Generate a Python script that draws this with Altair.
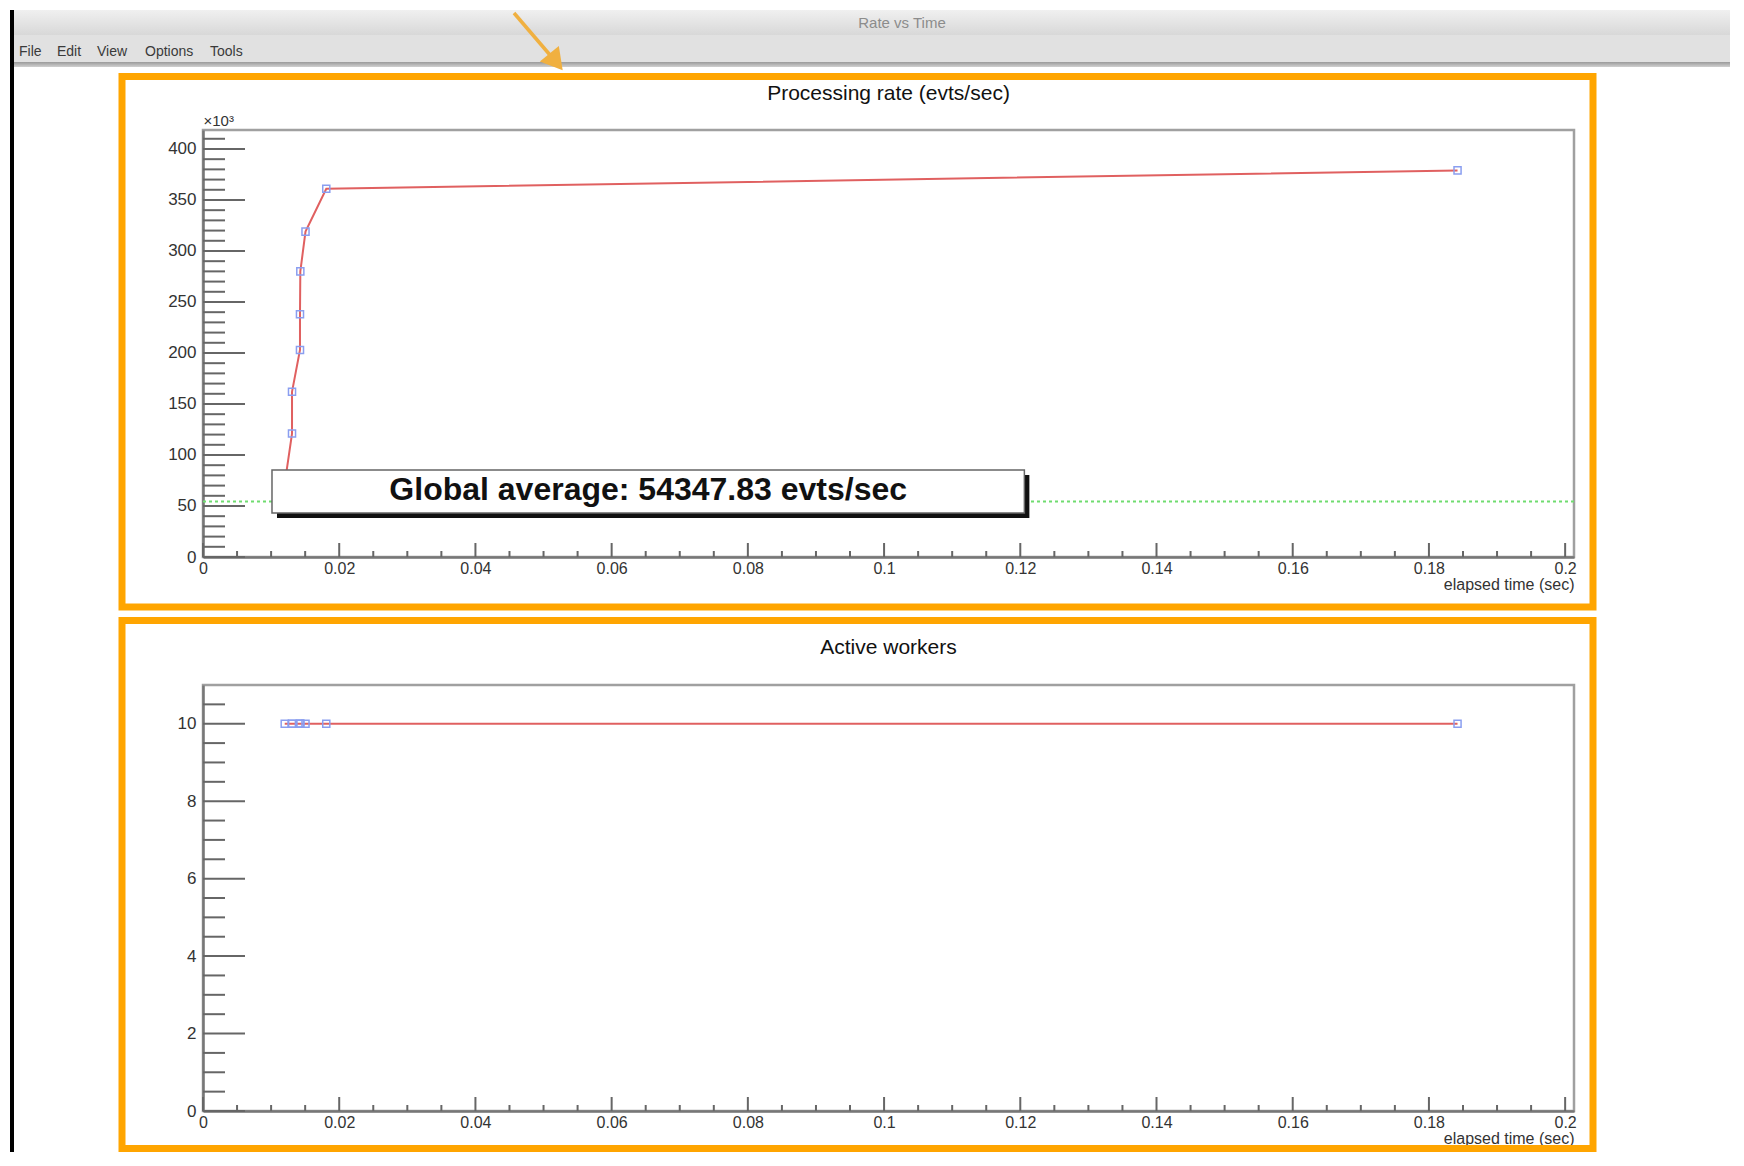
import altair as alt
import pandas as pd

# ---------------- data ----------------
time_s = [0.0120, 0.01307, 0.01307, 0.01424, 0.01424, 0.01429, 0.01505, 0.0181, 0.1842]
rate_k = [72, 121, 162, 203, 238, 280, 319, 361, 379]          # evts/sec, x10^3
workers = [10, 10, 10, 10, 10, 10, 10, 10, 10]
global_avg = 54347.83                                          # evts/sec

x_major = [0, 0.02, 0.04, 0.06, 0.08, 0.1, 0.12, 0.14, 0.16, 0.18, 0.2]
x_minor = [round(i * 0.005, 3) for i in range(1, 41) if i % 4]
ytop_major = [0, 50, 100, 150, 200, 250, 300, 350, 400]
ytop_minor = [v for v in range(10, 420, 10) if v % 50]
ybot_major = [0, 2, 4, 6, 8, 10]
ybot_minor = [v / 2 for v in range(1, 22) if v % 4]

menu_items = ["File", "Edit", "View", "Options", "Tools"]
window_title = "Rate vs Time"
top_title = "Processing rate (evts/sec)"
bot_title = "Active workers"
x_title = "elapsed time (sec)"

# pave (annotation box) corners, in data units of the upper panel
pave_x = [0.01013, 0.1206]
pave_y = [43.1, 85.3]

# ---------------- layout / style ----------------
W, H1, H2 = 1371, 427, 426
FONT = "Liberation Sans"
LBL = "#333333"
TICK = "#666666"
RED = "#e06060"
BLUE = "#8a9ef0"
GREEN = "#6fdc6f"
ORANGE = "#ffa500"

df = pd.DataFrame({"idx": list(range(len(time_s))), "t": time_s,
                   "rate": rate_k, "workers": workers})
one = pd.DataFrame({"k": [0]})

xscale = alt.Scale(domain=[0, 0.2013], nice=False, zero=False)
ys_top = alt.Scale(domain=[0, 418.6], nice=False, zero=False)
ys_bot = alt.Scale(domain=[0, 11], nice=False, zero=False)


def x_axis():
    return alt.Axis(values=x_major, format="~g", grid=False, ticks=False, tickSize=0,
                    domainColor="#777777", domainWidth=2.5,
                    labelFont=FONT, labelFontSize=16, labelColor=LBL,
                    labelBaseline="top", labelPadding=3, labelFlush=False,
                    labelOverlap=False,
                    title=x_title, titleFont=FONT, titleFontSize=16,
                    titleFontWeight="normal", titleColor=LBL, titleAlign="right",
                    titleX=W, titleY=19, titleBaseline="top", titleAngle=0)


def y_axis(vals, title):
    return alt.Axis(values=vals, format="d", grid=False, ticks=False, tickSize=0,
                    domainColor="#777777", domainWidth=2.5,
                    labelFont=FONT, labelFontSize=17, labelColor=LBL,
                    labelAlign="right", labelBaseline="middle", labelPadding=7,
                    labelFlush=False, labelOverlap=False,
                    title=title, titleFont=FONT, titleFontSize=15,
                    titleFontWeight="normal", titleColor=LBL, titleAlign="left",
                    titleAngle=0, titleX=0, titleY=-10, titleBaseline="middle")


def px_rect(x, x2, y, y2, **kw):
    return alt.Chart(one).mark_rect(**kw).encode(
        x=alt.value(x), x2=alt.value(x2), y=alt.value(y), y2=alt.value(y2))


def px_text(label, x, y, **kw):
    return alt.Chart(one).mark_text(text=label, font=FONT, baseline="middle", **kw).encode(
        x=alt.value(x), y=alt.value(y))


def ticks_layers(ymaj, ymin, yscale, H):
    out = []
    for vals, ln in ((ymaj, 42), (ymin, 22)):
        out.append(alt.Chart(pd.DataFrame({"v": vals})).mark_rule(
            color=TICK, strokeWidth=2).encode(
            y=alt.Y("v:Q", scale=yscale),
            x=alt.value(0), x2=alt.value(ln)))
    for vals, ln in ((x_major, 14), (x_minor, 6)):
        out.append(alt.Chart(pd.DataFrame({"v": vals})).mark_rule(
            color=TICK, strokeWidth=2).encode(
            x=alt.X("v:Q", scale=xscale),
            y=alt.value(H), y2=alt.value(H - ln)))
    return out


def series_layers(field, yscale, yaxis):
    line = alt.Chart(df).mark_line(color=RED, strokeWidth=2).encode(
        x=alt.X("t:Q", scale=xscale, axis=x_axis()),
        y=alt.Y(f"{field}:Q", scale=yscale, axis=yaxis),
        order="idx:Q")
    pts = alt.Chart(df).mark_point(shape="square", filled=False, size=50,
                                   color=BLUE, strokeWidth=1.5, opacity=1).encode(
        x=alt.X("t:Q", scale=xscale),
        y=alt.Y(f"{field}:Q", scale=yscale))
    return line, pts


# ---------------- window chrome (decoration, pixel units from plot origin) ----------------
grad_title = {"gradient": "linear", "x1": 0, "y1": 0, "x2": 0, "y2": 1,
              "stops": [{"offset": 0, "color": "#f0f0f0"}, {"offset": 1, "color": "#d8d8d8"}]}
grad_sep = {"gradient": "linear", "x1": 0, "y1": 0, "x2": 0, "y2": 1,
            "stops": [{"offset": 0, "color": "#9a9a9a"}, {"offset": 1, "color": "#d0d0d0"}]}
menu_x = [-184, -146, -106, -58, 7]

chrome = [
    px_rect(-193, 1527, -120, -95, color=grad_title),
    px_rect(-193, 1527, -95, -68, color="#e1e1e1"),
    px_rect(-193, 1527, -68, -63, color=grad_sep),
    px_rect(-193, -189, -120, 1022, color="#000000"),
    px_text(window_title, 699, -107, fontSize=15, color="#8c8c8c", align="center"),
]
for lab, mx in zip(menu_items, menu_x):
    chrome.append(px_text(lab, mx, -78, fontSize=14, color="#3a3a3a", align="left"))
chrome += [
    alt.Chart(one).mark_rule(color="#f0b040", strokeWidth=3.5).encode(
        x=alt.value(311), x2=alt.value(347), y=alt.value(-117), y2=alt.value(-75)),
    alt.Chart(one).mark_point(shape="triangle-down", filled=True, size=600,
                              color="#f0b040", opacity=1, angle=321).encode(
        x=alt.value(353), y=alt.value(-68)),
]

# ---------------- upper panel ----------------
line_t, pts_t = series_layers("rate", ys_top, y_axis(ytop_major, "×10³"))
avg = alt.Chart(one).mark_rule(color=GREEN, strokeWidth=2, strokeDash=[3, 3]).encode(
    y=alt.Y("y:Q", scale=ys_top), x=alt.value(0), x2=alt.value(W)
).transform_calculate(y=str(global_avg / 1000))
pave_df = pd.DataFrame({"x1": [pave_x[0]], "x2": [pave_x[1]], "y1": [pave_y[0]], "y2": [pave_y[1]],
                        "tx": [(pave_x[0] + pave_x[1]) / 2], "ty": [(pave_y[0] + pave_y[1]) / 2],
                        "label": [f"Global average: {global_avg:.2f} evts/sec"]})
pave_enc = dict(x=alt.X("x1:Q", scale=xscale), x2="x2:Q",
                y=alt.Y("y1:Q", scale=ys_top), y2="y2:Q")
shadow = alt.Chart(pave_df).mark_rect(color="#111111", xOffset=5, x2Offset=5,
                                      yOffset=5, y2Offset=5).encode(**pave_enc)
box = alt.Chart(pave_df).mark_rect(fill="white", stroke="#666666", strokeWidth=1.5).encode(**pave_enc)
txt = alt.Chart(pave_df).mark_text(font=FONT, fontSize=32, fontWeight="bold", color="#111111",
                                   align="center", baseline="middle", dy=-2).encode(
    x=alt.X("tx:Q", scale=xscale), y=alt.Y("ty:Q", scale=ys_top),
    text="label:N")
frame_t = px_rect(-81, 1390, -53.5, 477, fillOpacity=0, stroke=ORANGE, strokeWidth=7)
title_t = px_text(top_title, W / 2, -36, fontSize=21, color="#111111", align="center")

top = alt.layer(line_t, *ticks_layers(ytop_major, ytop_minor, ys_top, H1), avg, pts_t,
                shadow, box, txt, frame_t, title_t, *chrome).properties(width=W, height=H1)

# ---------------- lower panel ----------------
line_b, pts_b = series_layers("workers", ys_bot, y_axis(ybot_major, ""))
frame_b = px_rect(-81, 1390, -64.5, 463.5, fillOpacity=0, stroke=ORANGE, strokeWidth=7)
title_b = px_text(bot_title, W / 2, -37, fontSize=21, color="#111111", align="center")
bottom = alt.layer(line_b, *ticks_layers(ybot_major, ybot_minor, ys_bot, H2), pts_b,
                   frame_b, title_b).properties(width=W, height=H2)

chart = alt.vconcat(top, bottom, spacing=128, bounds="flush").properties(
    padding=0, background="white"
).configure_view(stroke="#a0a0a0", strokeWidth=2.5)

chart.save("out.html", embed_options={"renderer": "svg", "actions": False})
